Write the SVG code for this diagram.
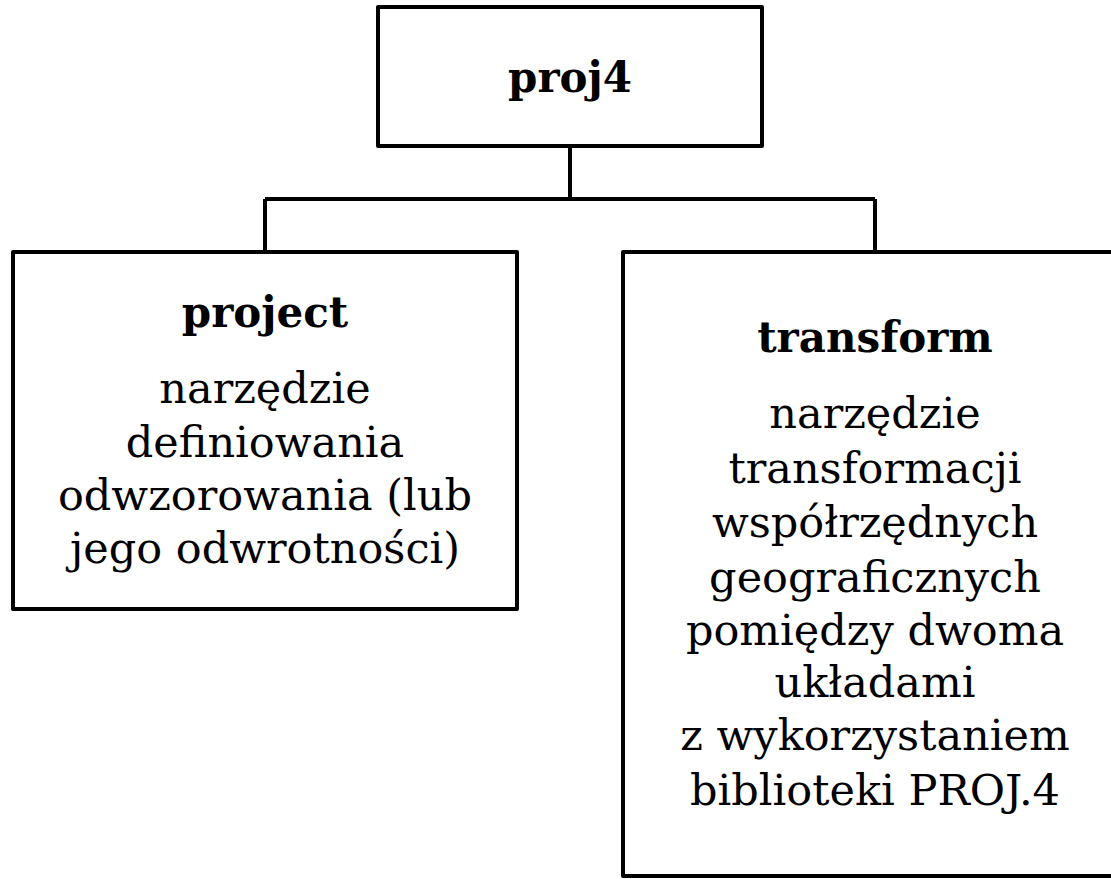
<svg xmlns="http://www.w3.org/2000/svg" width="1111" height="879" viewBox="0 0 1111 879">
<style>
.box{fill:#fff;stroke:#000;stroke-width:4;stroke-linejoin:round}
.con{fill:none;stroke:#000;stroke-width:4}
.t{font-family:"DejaVu Serif","Liberation Serif",serif;text-anchor:middle;fill:#000}
.h{font-weight:bold;font-size:42px}
.b{font-size:43px}
</style>
<rect width="1111" height="879" fill="#fff"/>
<g id="connectors">
<path class="con" d="M570,147 V199 M265,199 H875 M265,199 V252 M875,199 V252"/>
</g>
<g id="proj4">
<rect class="box" x="378" y="7" width="384" height="139"/>
<text class="t h" x="570" y="92">proj4</text>
</g>
<g id="project">
<rect class="box" x="13" y="252" width="504" height="357"/>
<text class="t h" x="265" y="327">project</text>
<text class="t b" x="265" y="403">narzędzie</text>
<text class="t b" x="265" y="457">definiowania</text>
<text class="t b" x="265" y="510">odwzorowania (lub</text>
<text class="t b" x="265" y="563">jego odwrotności)</text>
</g>
<g id="transform">
<rect class="box" x="623" y="252" width="504" height="624"/>
<text class="t h" x="875" y="352">transform</text>
<text class="t b" x="875" y="428">narzędzie</text>
<text class="t b" x="875" y="483">transformacji</text>
<text class="t b" x="875" y="537">współrzędnych</text>
<text class="t b" x="875" y="592">geograficznych</text>
<text class="t b" x="875" y="645">pomiędzy dwoma</text>
<text class="t b" x="875" y="697">układami</text>
<text class="t b" x="875" y="750">z wykorzystaniem</text>
<text class="t b" x="875" y="805">biblioteki PROJ.4</text>
</g>
</svg>
